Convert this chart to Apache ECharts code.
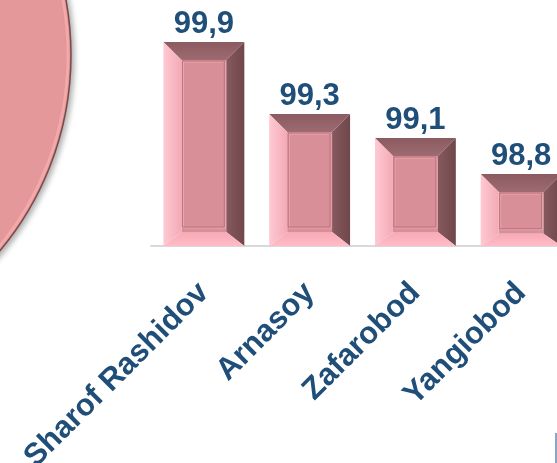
<!DOCTYPE html>
<html>
<head>
<meta charset="utf-8">
<script src="https://cdn.jsdelivr.net/npm/echarts@6/dist/echarts.min.js"></script>
<style>
  html, body { margin: 0; padding: 0; background: #fff; }
  #chart { width: 557px; height: 463px; }
</style>
</head>
<body>
<div id="chart"></div>
<script>
// данные
var categories = ["Sharof Rashidov", "Arnasoy", "Zafarobod", "Yangiobod"];
var values = [99.9, 99.3, 99.1, 98.8];
var yMin = 98.2;
var yMax = 100;

var chart = echarts.init(document.getElementById("chart"));

var blue = "#1f4e79";
var font = "'Liberation Sans', Arial, sans-serif";

// bevel bar drawn from axis coords
function renderBevel(params, api) {
  var idx = api.value(0);
  var val = api.value(1);
  var top = api.coord([idx, val]);
  var base = api.coord([idx, yMin]);
  var bw = api.size([1, 0])[0] * 0.765;
  var x0 = top[0] - bw / 2, x1 = top[0] + bw / 2;
  var y0 = top[1], y1 = base[1];
  var b = 18;  // side / top bevel
  var bb = Math.min(14, (y1 - y0) * 0.17); // bottom bevel
  var G = echarts.graphic.LinearGradient;
  return {
    type: "group",
    children: [
      { // front face
        type: "rect",
        shape: { x: x0 + b, y: y0 + b, width: x1 - x0 - 2 * b, height: y1 - y0 - b - bb },
        style: { fill: "#d98f98" }
      },
      { // top face
        type: "polygon",
        shape: { points: [[x0, y0], [x1, y0], [x1 - b, y0 + b], [x0 + b, y0 + b]] },
        style: { fill: new G(0, 0, 0, 1, [{ offset: 0, color: "#8a5b60" }, { offset: 1, color: "#9d6b71" }]) }
      },
      { // right face
        type: "polygon",
        shape: { points: [[x1, y0], [x1, y1], [x1 - b, y1 - bb], [x1 - b, y0 + b]] },
        style: { fill: new G(0, 0, 1, 0, [{ offset: 0, color: "#86595e" }, { offset: 1, color: "#6f474b" }]) }
      },
      { // left face
        type: "polygon",
        shape: { points: [[x0, y0], [x0 + b, y0 + b], [x0 + b, y1 - bb], [x0, y1]] },
        style: { fill: new G(0, 0, 1, 0, [{ offset: 0, color: "#ffc9d3" }, { offset: 1, color: "#f3aab5" }]) }
      },
      { // bottom face
        type: "polygon",
        shape: { points: [[x0, y1], [x0 + b, y1 - bb], [x1 - b, y1 - bb], [x1, y1]] },
        style: { fill: new G(0, 0, 0, 1, [{ offset: 0, color: "#f7aab6" }, { offset: 1, color: "#ffbcc7" }]) }
      },
      { // inner frame, light line
        type: "rect",
        shape: { x: x0 + b + 2, y: y0 + b + 2, width: x1 - x0 - 2 * b - 3, height: y1 - y0 - b - bb - 6 },
        style: { fill: null, stroke: "#eba9b1", lineWidth: 1 }
      },
      { // inner frame, dark line
        type: "rect",
        shape: { x: x0 + b + 1, y: y0 + b + 1, width: x1 - x0 - 2 * b - 3, height: y1 - y0 - b - bb - 6 },
        style: { fill: null, stroke: "#b9737c", lineWidth: 1 }
      }
    ]
  };
}

var option = {
  animation: false,
  // grid runs past the right edge, last bar is cut off
  grid: { left: 151, top: 30, width: 423, height: 216, containLabel: false, outerBoundsMode: "none" },
  xAxis: {
    type: "category",
    data: categories,
    axisLine: { lineStyle: { color: "#d9d9d9", width: 2 } },
    axisTick: { length: 9, lineStyle: { color: "#d9d9d9", width: 2 } },
    axisLabel: {
      rotate: 45,
      margin: 42,
      interval: 0,
      color: blue,
      fontSize: 31,
      fontWeight: "bold",
      fontFamily: font
    }
  },
  yAxis: {
    type: "value",
    min: yMin,
    max: yMax,
    show: false
  },
  // big circle on the left
  graphic: [
    {
      type: "circle",
      shape: { cx: -234, cy: 55, r: 305 },
      style: {
        fill: "#e4989a",
        stroke: "#7a4a4a",
        lineWidth: 1.5,
        shadowBlur: 6,
        shadowOffsetX: 2,
        shadowOffsetY: 2,
        shadowColor: "rgba(0,0,0,0.35)"
      },
      z: 0
    },
    {
      type: "circle",
      shape: { cx: -234, cy: 55, r: 302 },
      style: { fill: null, stroke: "rgba(245,170,172,0.9)", lineWidth: 3 },
      z: 1
    },
    {
      type: "rect",
      shape: { x: 555, y: 433, width: 2, height: 30 },
      style: { fill: "#8aa5c5" }
    }
  ],
  series: [
    {
      type: "custom",
      renderItem: renderBevel,
      data: categories.map(function (c, i) { return [i, values[i]]; }),
      encode: { x: 0, y: 1 },
      z: 2
    },
    {
      // transparent bars only for value labels
      type: "bar",
      data: values,
      barWidth: "76%",
      itemStyle: { color: "rgba(0,0,0,0)" },
      label: {
        show: true,
        position: "top",
        distance: 2,
        color: blue,
        fontSize: 31,
        fontWeight: "bold",
        fontFamily: font,
        formatter: function (p) { return String(p.value).replace(".", ","); }
      },
      z: 3
    }
  ]
};

chart.setOption(option);
</script>
</body>
</html>
